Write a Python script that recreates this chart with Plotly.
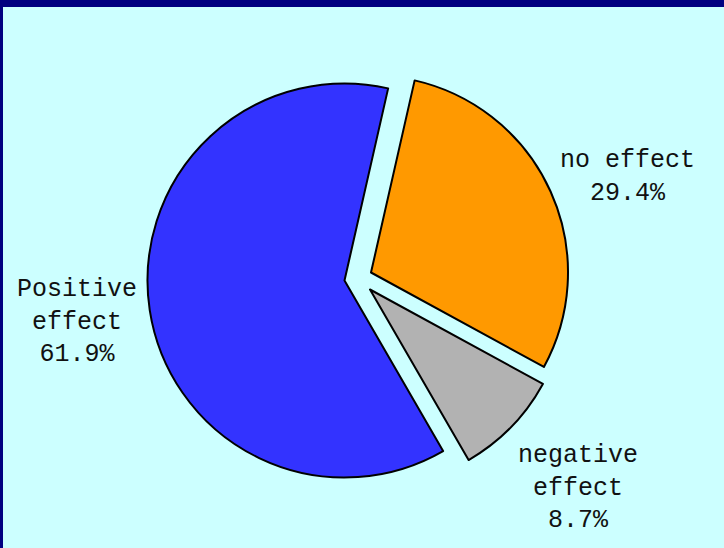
import plotly.graph_objects as go

# Survey result: share of responses per effect category
categories = ["Positive effect", "negative effect", "no effect"]
label_lines = ["Positive<br>effect", "negative<br>effect", "no effect"]
shares = [61.9, 8.7, 29.4]
colors = ["#3333FF", "#B2B2B2", "#FF9900"]

W, H = 724, 548
SIZE = 394  # pie box side in px (diameter)

# pie centres in px (x from left, y from top); two slices are exploded
centres = [(344.5, 280.5), (370.0, 289.5), (371.0, 272.5)]

# label block centres in px
label_pos = [(77, 322), (578, 488), (627, 176.5)]

# edge of the first slice, degrees clockwise from 12 o'clock
START_ANGLE = 12.8 - shares[0] * 3.6 + 360


def domain(cx, cy):
    yb = H - cy
    return dict(x=[(cx - SIZE / 2) / W, (cx + SIZE / 2) / W],
                y=[(yb - SIZE / 2) / H, (yb + SIZE / 2) / H])


fig = go.Figure()
for i, (cx, cy) in enumerate(centres):
    fill = [colors[j] if j == i else "rgba(0,0,0,0)" for j in range(len(shares))]
    widths = [2 if j == i else 0 for j in range(len(shares))]
    fig.add_trace(go.Pie(
        labels=categories,
        values=shares,
        sort=False,
        direction="counterclockwise",
        rotation=START_ANGLE,
        marker=dict(colors=fill, line=dict(color="black", width=widths)),
        textinfo="none",
        hoverinfo="skip",
        showlegend=False,
        domain=domain(cx, cy),
    ))

for lab, val, (px, py) in zip(label_lines, shares, label_pos):
    fig.add_annotation(
        text=f"{lab}<br>{val:.1f}%",
        x=px / W, y=(H - py) / H, xref="paper", yref="paper",
        xanchor="center", yanchor="middle", showarrow=False,
        font=dict(family="Liberation Mono, monospace", size=25, color="#111111"),
        align="center",
    )

# navy frame along the top and left edges
fig.add_shape(type="rect", xref="paper", yref="paper",
              x0=0, x1=1, y0=(H - 7) / H, y1=1,
              fillcolor="#000080", line=dict(width=0))
fig.add_shape(type="rect", xref="paper", yref="paper",
              x0=0, x1=3 / W, y0=0, y1=1,
              fillcolor="#000080", line=dict(width=0))

fig.update_layout(
    width=W, height=H,
    margin=dict(l=0, r=0, t=0, b=0),
    paper_bgcolor="#CCFFFF",
    plot_bgcolor="#CCFFFF",
    showlegend=False,
)

fig.write_html("out.html")
